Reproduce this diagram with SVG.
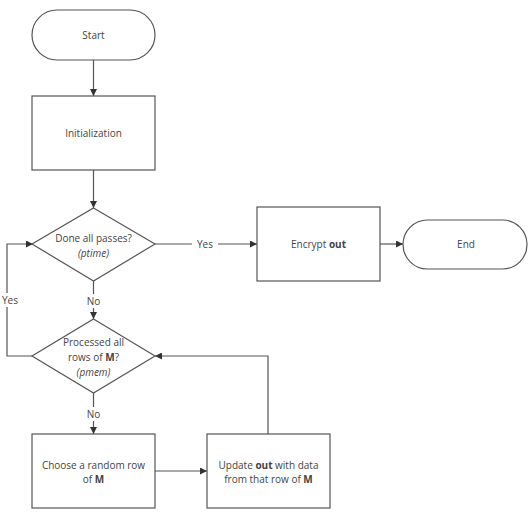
<svg xmlns="http://www.w3.org/2000/svg" width="530" height="516" viewBox="0 0 530 516">
<style>
.s{fill:#fff;stroke:#555;stroke-width:1.2}
.t{font-family:"Open Sans","Liberation Sans",sans-serif;font-size:10px;fill:#444;text-anchor:middle}
.c{fill:none;stroke:#555;stroke-width:1.2}
.l{fill:#fff}
</style>
<defs>
<marker id="a" viewBox="0 0 10 10" refX="10" refY="5" markerWidth="7" markerHeight="7" orient="auto" markerUnits="userSpaceOnUse"><path d="M0,0L10,5L0,10z" fill="#333"/></marker>
</defs>
<g id="connectors">
<path class="c" d="M93.5,60V96" marker-end="url(#a)"/>
<path class="c" d="M93.5,170V208" marker-end="url(#a)"/>
<path class="c" d="M155,244H257" marker-end="url(#a)"/>
<path class="c" d="M380,244H403" marker-end="url(#a)"/>
<path class="c" d="M93.5,281V319" marker-end="url(#a)"/>
<path class="c" d="M33,356H7V244H33" marker-end="url(#a)"/>
<path class="c" d="M93.5,393V434" marker-end="url(#a)"/>
<path class="c" d="M155,471H207" marker-end="url(#a)"/>
<path class="c" d="M268,434V356H155" marker-end="url(#a)"/>
<rect class="l" x="192" y="237" width="26" height="14"/>
<text class="t" x="205" y="248">Yes</text>
<rect class="l" x="83" y="294" width="21" height="14"/>
<text class="t" x="93.5" y="305">No</text>
<rect class="l" x="0" y="293" width="20" height="14"/>
<text class="t" x="10" y="304">Yes</text>
<rect class="l" x="83" y="407" width="21" height="14"/>
<text class="t" x="93.5" y="418">No</text>
</g>
<g id="start"><rect class="s" x="32" y="10" width="123" height="50" rx="25"/><text class="t" x="93.5" y="39">Start</text></g>
<g id="init"><rect class="s" x="32" y="96" width="123" height="74"/><text class="t" x="93.5" y="137">Initialization</text></g>
<g id="d1"><path class="s" d="M93.5,208L155,244L93.5,281L32,244Z"/><text class="t" x="93.5" y="242">Done all passes?</text><text class="t" x="93.5" y="257" font-style="italic">(ptime)</text></g>
<g id="encrypt"><rect class="s" x="257" y="207" width="123" height="74"/><text class="t" x="318.5" y="248">Encrypt <tspan font-weight="bold">out</tspan></text></g>
<g id="end"><rect class="s" x="403" y="220" width="124" height="49" rx="24.5"/><text class="t" x="466" y="248">End</text></g>
<g id="d2"><path class="s" d="M93.5,319L155,356L93.5,393L32,356Z"/><text class="t" x="93.5" y="346">Processed all</text><text class="t" x="93.5" y="361">rows of <tspan font-weight="bold">M</tspan>?</text><text class="t" x="93.5" y="376" font-style="italic">(pmem)</text></g>
<g id="choose"><rect class="s" x="32" y="434" width="123" height="74"/><text class="t" x="93.5" y="469">Choose a random row</text><text class="t" x="93.5" y="483">of <tspan font-weight="bold">M</tspan></text></g>
<g id="update"><rect class="s" x="207" y="434" width="123" height="74"/><text class="t" x="268.5" y="469">Update <tspan font-weight="bold">out</tspan> with data</text><text class="t" x="268.5" y="483">from that row of <tspan font-weight="bold">M</tspan></text></g>
</svg>
